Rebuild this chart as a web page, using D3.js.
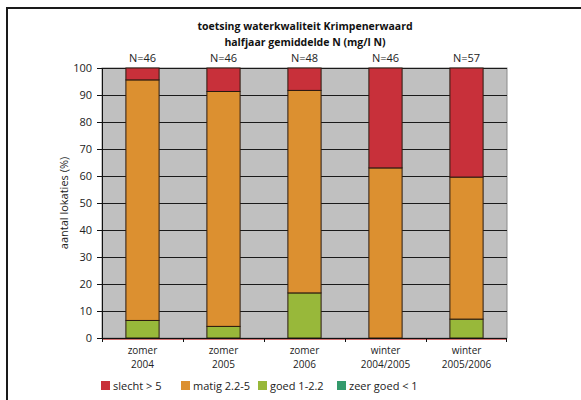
<!DOCTYPE html>
<html>
<head>
<meta charset="utf-8">
<script src="https://cdn.jsdelivr.net/npm/d3@7"></script>
<style>
  html, body { margin: 0; padding: 0; background: #fff; }
  svg { display: block; font-family: "Open Sans", "DejaVu Sans", sans-serif; }
</style>
</head>
<body>
<svg id="chart" width="581" height="400"></svg>
<script>
// Halfjaarlijkse toetsing totaal-stikstof, Krimpenerwaard
const categories = ["zomer|2004", "zomer|2005", "zomer|2006", "winter|2004/2005", "winter|2005/2006"];
const nLabels = ["N=46", "N=46", "N=48", "N=46", "N=57"];
const zeerGoed = [0, 0, 0, 0, 0];
const goed = [6.5, 4.3, 16.7, 0, 7.0];
const matig = [89.1, 87.0, 75.0, 63.0, 52.6];
const slecht = [4.4, 8.7, 8.3, 37.0, 40.4];
const yTicks = [0, 10, 20, 30, 40, 50, 60, 70, 80, 90, 100];

const seriesKeys = ["zeerGoed", "goed", "matig", "slecht"];
const seriesNames = { slecht: "slecht > 5", matig: "matig 2.2-5", goed: "goed 1-2.2", zeerGoed: "zeer goed < 1" };
const colors = { slecht: "#c8303a", matig: "#dc9030", goed: "#98b83a", zeerGoed: "#349a6c" };
const legendOrder = ["slecht", "matig", "goed", "zeerGoed"];

const rows = categories.map((c, i) => ({
  cat: c, zeerGoed: zeerGoed[i], goed: goed[i], matig: matig[i], slecht: slecht[i]
}));
const stacked = d3.stack().keys(seriesKeys)(rows);

const svg = d3.select("#chart");
const plot = { left: 102, right: 507, top: 68, bottom: 338 };

// outer frame
svg.append("rect").attr("x", 7).attr("y", 8).attr("width", 600).attr("height", 420)
  .attr("fill", "none").attr("stroke", "#1a1a1a").attr("stroke-width", 2);

const x = d3.scaleBand().domain(categories).range([plot.left, plot.right]).padding(0);
const y = d3.scaleLinear().domain([0, 100]).range([plot.bottom, plot.top]);
const barW = x.bandwidth() * 0.41;

// title
svg.append("text").attr("x", 305).attr("y", 30).attr("text-anchor", "middle")
  .attr("font-weight", "bold").attr("font-size", 10.5).attr("fill", "#111")
  .text("toetsing waterkwaliteit Krimpenerwaard");
svg.append("text").attr("x", 305).attr("y", 46).attr("text-anchor", "middle")
  .attr("font-weight", "bold").attr("font-size", 10.5).attr("fill", "#111")
  .text("halfjaar gemiddelde N (mg/l N)");

// plot background
svg.append("rect").attr("x", plot.left).attr("y", plot.top)
  .attr("width", plot.right - plot.left).attr("height", plot.bottom - plot.top)
  .attr("fill", "#c0c0c0").attr("stroke", "#8a8a8a").attr("stroke-width", 1);

// gridlines
svg.append("g").selectAll("line").data(yTicks.filter(t => t > 0)).join("line")
  .attr("x1", plot.left).attr("x2", plot.right)
  .attr("y1", d => Math.round(y(d)) + 0.5).attr("y2", d => Math.round(y(d)) + 0.5)
  .attr("stroke", "#1a1a1a").attr("stroke-width", 1);

// stacked bars
svg.append("g").selectAll("g").data(stacked).join("g")
  .attr("fill", d => colors[d.key])
  .selectAll("rect").data(d => d.filter(p => p[1] - p[0] > 0)).join("rect")
  .attr("x", d => x(d.data.cat) + (x.bandwidth() - barW) / 2)
  .attr("width", barW)
  .attr("y", d => y(d[1]))
  .attr("height", d => y(d[0]) - y(d[1]))
  .attr("stroke", "#2a1a10").attr("stroke-width", 1);

// N labels
svg.append("g").selectAll("text").data(categories).join("text")
  .attr("x", d => x(d) + x.bandwidth() / 2).attr("y", 62)
  .attr("text-anchor", "middle").attr("font-size", 11).attr("fill", "#222")
  .text((d, i) => nLabels[i]);

// y axis
const yAxis = svg.append("g").attr("transform", `translate(${plot.left},0)`)
  .call(d3.axisLeft(y).tickValues(yTicks).tickSize(5).tickPadding(5));
yAxis.select(".domain").attr("stroke", "#111");
yAxis.selectAll(".tick line").attr("stroke", "#111");
yAxis.selectAll("text").attr("font-size", 11).attr("fill", "#222")
  .attr("font-family", "'Open Sans', sans-serif");

// x axis with ticks at category boundaries
svg.append("line").attr("x1", plot.left).attr("x2", plot.right)
  .attr("y1", plot.bottom + 1.5).attr("y2", plot.bottom + 1.5)
  .attr("stroke", "#d07070").attr("stroke-width", 1);
const xAxis = svg.append("g").attr("transform", `translate(0,${plot.bottom})`);
xAxis.append("line").attr("x1", plot.left).attr("x2", plot.right).attr("y1", 0.5).attr("y2", 0.5)
  .attr("stroke", "#111");
xAxis.selectAll("line.tk").data(categories.concat(["end"])).join("line").attr("class", "tk")
  .attr("x1", (d, i) => i < categories.length ? x(d) + 0.5 : plot.right - 0.5)
  .attr("x2", (d, i) => i < categories.length ? x(d) + 0.5 : plot.right - 0.5)
  .attr("y1", 0).attr("y2", 4).attr("stroke", "#111");
xAxis.selectAll("text.l1").data(categories).join("text").attr("class", "l1")
  .attr("x", d => x(d) + x.bandwidth() / 2).attr("y", 15.5)
  .attr("text-anchor", "middle").attr("font-size", 10).attr("fill", "#222")
  .text(d => d.split("|")[0]);
xAxis.selectAll("text.l2").data(categories).join("text").attr("class", "l2")
  .attr("x", d => x(d) + x.bandwidth() / 2).attr("y", 29.5)
  .attr("text-anchor", "middle").attr("font-size", 10).attr("fill", "#222")
  .text(d => d.split("|")[1]);

// y axis title
svg.append("text").attr("transform", "translate(68,203) rotate(-90)")
  .attr("text-anchor", "middle").attr("font-size", 11).attr("fill", "#222")
  .text("aantal lokaties (%)");

// legend
const legendX = [101, 181, 258, 337];
const lg = svg.append("g").selectAll("g").data(legendOrder).join("g")
  .attr("transform", (d, i) => `translate(${legendX[i]},381)`);
lg.append("rect").attr("width", 9).attr("height", 9).attr("fill", d => colors[d]);
lg.append("text").attr("x", 12).attr("y", 9).attr("font-size", 11).attr("fill", "#222")
  .text(d => seriesNames[d]);
</script>
</body>
</html>
